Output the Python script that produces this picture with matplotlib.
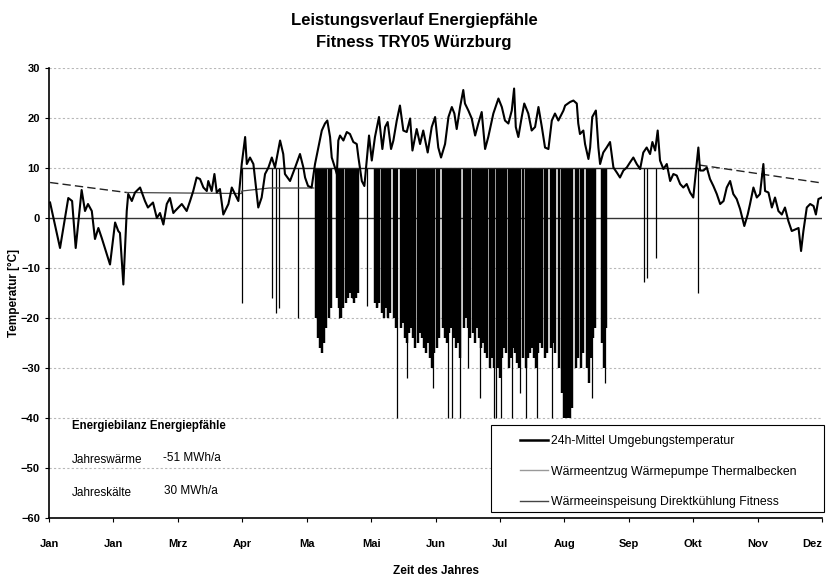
import matplotlib
matplotlib.use("Agg")
import matplotlib.pyplot as plt
from matplotlib.lines import Line2D
from matplotlib.patches import Rectangle
import numpy as np

plt.rcParams['font.family'] = ['Liberation Sans', 'DejaVu Sans']

# ---------------- data ----------------
month_labels = ["Jan", "Jan", "Mrz", "Apr", "Ma", "Mai", "Jun", "Jul",
                "Aug", "Sep", "Okt", "Nov", "Dez"]
year_days = 365

# 24h mean ambient temperature (day of year, °C)
temp_day = [0.5, 5.2, 9.1, 10.9, 12.6, 15.4, 17.0, 18.4, 20.2, 21.7, 23.3, 24.9,
            28.8, 31.2, 32.7, 33.5, 35.1, 36.7, 37.4, 39.1, 40.6, 43.0, 45.3,
            46.7, 49.1, 50.9, 52.4, 54.0, 55.6, 57.1, 58.7, 59.5, 62.7, 65.0,
            66.6, 68.1, 69.7, 71.3, 72.9, 74.5, 75.2, 76.8, 78.1, 79.2, 80.7,
            82.3, 84.7, 86.3, 87.8, 89.4, 91.0, 92.6, 93.4, 94.9, 96.5, 98.1,
            98.8, 100.4, 102.0, 103.6, 105.2, 106.7, 109.1, 110.6, 111.4, 113.8,
            116.2, 118.5, 120.1, 120.9, 122.3, 124.0, 125.6, 127.2, 128.8, 130.3,
            131.4, 132.7, 133.5, 135.0, 135.9, 136.6, 137.4, 139.0, 140.6, 142.1,
            143.7, 145.3, 146.1, 147.7, 148.9, 150.0, 151.1, 152.4, 153.9, 155.8,
            157.4, 158.7, 159.9, 161.5, 162.6, 164.2, 165.7, 167.3, 168.9, 170.5,
            171.6, 173.6, 175.2, 176.7, 178.8, 180.7, 182.3, 183.8, 185.1, 187.0,
            188.6, 190.2, 191.4, 192.5, 194.1, 195.6, 196.4, 198.0, 199.6, 201.2,
            202.7, 204.3, 205.9, 207.4, 209.8, 212.2, 213.8, 215.3, 216.9, 218.5,
            219.6, 220.4, 221.6, 223.2, 224.4, 226.3, 227.9, 229.5, 231.1, 232.7,
            234.2, 235.8, 237.4, 238.9, 240.5, 242.9, 243.7, 246.0, 247.6, 249.2,
            249.9, 250.7, 252.3, 253.1, 254.7, 255.5, 256.5, 258.2, 258.6, 259.4,
            260.2, 261.7, 263.3, 264.9, 266.5, 268.1, 269.6, 271.2, 272.8, 274.3,
            275.9, 277.5, 279.1, 280.6, 282.2, 283.8, 284.9, 286.2, 287.4, 288.5,
            290.1, 291.7, 293.3, 294.8, 296.4, 298.0, 299.5, 301.1, 302.7, 304.2,
            306.6, 307.4, 309.0, 310.6, 312.1, 313.7, 315.3, 316.9, 318.5, 320.0,
            321.6, 323.1, 324.7, 326.3, 328.3, 329.9, 331.0, 332.6, 334.2, 335.7,
            337.3, 338.1, 339.7, 341.3, 342.8, 344.4, 346.0, 347.5, 349.1, 350.7,
            352.3, 353.9, 355.1, 356.2, 357.8, 359.4, 361.0, 362.1, 363.3, 364.9]
temp_val = [3.1, -6.0, 4.0, 3.4, -6.0, 5.6, 1.4, 2.8, 1.4, -4.2, -2.0, -4.0,
            -9.3, -0.9, -2.6, -3.0, -13.3, 1.4, 4.8, 3.4, 5.1, 6.1, 3.4,
            2.1, 3.1, 0.0, 1.0, -1.3, 2.8, 4.0, 1.0, 1.4, 2.8, 1.4,
            3.4, 5.4, 8.1, 7.8, 6.1, 5.4, 7.4, 5.4, 8.8, 5.1, 5.8,
            0.7, 2.8, 6.1, 4.8, 3.4, 10.8, 16.2, 10.8, 12.1, 10.8, 4.8,
            2.1, 4.1, 8.8, 10.1, 12.1, 10.1, 15.5, 12.8, 8.8, 7.4,
            10.1, 12.8, 10.1, 8.1, 6.4, 6.1, 10.8, 14.1, 17.5, 18.9,
            19.5, 16.2, 12.1, 10.1, 8.8, 15.5, 16.5, 15.5, 17.2, 16.8,
            15.2, 14.8, 12.1, 7.4, 6.4, 11.5, 16.5, 11.5, 16.2, 20.2,
            13.8, 18.2, 19.2, 13.8, 15.5, 19.5, 22.5, 17.5, 17.2, 19.9,
            13.5, 17.8, 14.8, 17.5, 13.1, 18.2, 20.2, 14.1, 12.1, 14.8,
            20.2, 22.2, 20.9, 17.8, 22.2, 25.6, 22.9, 21.5, 19.9, 16.5,
            18.9, 21.2, 13.8, 16.2, 20.9, 23.9, 22.2, 19.5, 18.9, 21.5,
            25.9, 18.2, 16.2, 20.2, 22.9, 20.9, 17.5, 18.2, 22.2, 18.2,
            14.1, 13.8, 19.5, 20.9, 19.5, 21.5, 22.5, 23.2, 23.5, 22.9,
            18.9, 16.8, 17.5, 14.8, 11.8, 14.1, 20.2, 21.5, 19.2, 14.1,
            10.8, 13.1, 14.1, 15.2, 10.1, 9.1, 8.1, 9.5, 10.1, 11.1,
            12.1, 10.8, 9.8, 13.1, 14.1, 12.8, 15.2, 13.5, 17.5, 11.5,
            9.8, 10.8, 7.4, 8.8, 8.5, 6.8, 6.1, 6.8, 5.1, 4.1,
            14.1, 9.5, 9.5, 10.1, 7.8, 6.4, 4.8, 2.8, 3.4, 6.1,
            7.4, 4.8, 3.8, 1.8, -1.6, 0.7, 2.8, 6.1, 4.1, 4.8,
            10.8, 5.4, 5.1, 2.1, 4.1, 1.4, 0.7, 2.1, -0.6, -2.6,
            -2.3, -2.0, -6.6, -2.6, 2.1, 2.8, 2.4, 0.7, 3.8, 4.1]

# heat injection (direct cooling): upper level of the band
inj_top = 10.0
# days with continuous injection (dense band), lowest value of the day
band_day = [126, 127, 128, 129, 130, 131, 132, 133,
            136, 137, 138, 139, 140, 141, 142, 143, 144, 145, 146,
            154, 155, 156, 157, 158, 159, 160, 161, 163, 164,
            166, 167, 168, 169, 170, 171, 172, 173, 174, 175, 176, 177, 178,
            179, 180, 181, 182, 183, 184,
            186, 187, 188, 189, 190, 191, 192, 193, 194,
            196, 197, 198, 199, 200, 201, 202, 203, 204, 205, 206, 207, 208,
            209, 210,
            212, 213, 214, 215, 216, 217, 218, 219, 220, 221, 222,
            224, 225, 226, 227, 228, 229, 230, 231, 232, 233, 234, 235,
            237, 238, 239,
            241, 242, 243, 244, 245, 246, 247,
            249, 250, 251, 252,
            254, 255, 256, 257, 258,
            261, 262, 263]
band_low = [-20, -24, -26, -27, -25, -22, -20, -18,
            -16, -18, -20, -18, -17, -16, -15, -16, -17, -16, -15,
            -17, -18, -17, -19, -20, -18, -20, -19, -20, -22,
            -22, -21, -24, -25, -23, -22, -24, -26, -25, -23, -24, -26, -27,
            -25, -28, -30, -27, -26, -24,
            -22, -24, -25, -23, -22, -24, -26, -25, -28,
            -22, -20, -22, -24, -23, -25, -22, -24, -26, -25, -27, -28, -30,
            -28, -30,
            -30, -32, -28, -26, -27, -30, -28, -26, -27, -29, -30,
            -28, -30, -28, -27, -26, -28, -30, -27, -25, -26, -28, -27,
            -26, -25, -27,
            -30, -35, -40, -40, -40, -40, -38,
            -30, -28, -30, -27,
            -30, -33, -28, -24, -22,
            -25, -30, -22]
# single injection peaks (thin spikes)
spike_day = [91.0, 105.3, 107.0, 108.5, 117.6, 137.0, 143.0, 150.2, 154.9,
             159.6, 164.3, 169.0, 181.3, 188.6, 190.5, 194.1, 197.9, 203.5,
             210.0, 211.0, 213.5, 218.6, 222.6, 225.4, 230.4, 237.5, 256.4,
             262.5, 281.0, 282.4, 286.6, 306.6]
spike_low = [-17, -16, -19, -18, -20, -20, -16, -17.7, -17.7,
             -19.7, -40, -32, -34, -40, -40, -40, -30, -36,
             -40, -40, -40, -40, -35, -40, -40, -40, -36,
             -33, -12.7, -12.0, -8.0, -15.0]

# ground / heat extraction reference levels
ext_day = [0.5, 36.7, 91.0, 91.0, 104.0, 125.0]
ext_val = [7.1, 5.1, 4.9, 5.4, 6.0, 6.0]
lvl_day = [91.0, 307.0]
lvl_val = [10.0, 10.0]
lvl2_day = [307.0, 365.0]
lvl2_val = [10.6, 7.0]

# ---------------- figure ----------------
fig = plt.figure(figsize=(8.28, 5.77), dpi=100)
ax = fig.add_axes([0.0592, 0.1023, 0.9336, 0.7798])

for yv in [30, 20, 10, -10, -20, -30, -40, -50]:
    ax.axhline(yv, color='#b8b8b8', lw=0.8, ls=(0, (2, 2)), zorder=0)
ax.axhline(0, color='#333333', lw=1.0, zorder=1)

ax.vlines(band_day, band_low, inj_top, color='black', lw=1.75, zorder=2)
ax.vlines(spike_day, spike_low, inj_top, color='black', lw=0.9, zorder=2)
ax.plot(ext_day[:2], ext_val[:2], color='#222222', lw=1.0, ls=(0, (6, 3)), zorder=2)
ax.plot(ext_day[1:], ext_val[1:], color='#444444', lw=0.9, zorder=2)
ax.plot(lvl_day, lvl_val, color='#222222', lw=1.0, zorder=2)
ax.plot(lvl2_day, lvl2_val, color='#222222', lw=1.0, ls=(0, (6, 3)), zorder=2)
ax.plot(temp_day, temp_val, color='black', lw=1.5, zorder=3)

ax.set_xlim(0, year_days)
ax.set_ylim(-60, 30)
ax.set_xticks(np.linspace(0, year_days, len(month_labels)))
ax.set_xticklabels(month_labels)
ax.set_yticks(range(-60, 31, 10))
ax.tick_params(axis='both', labelsize=8, length=3, width=0.8, color='black')
ax.tick_params(axis='x', pad=12)
xl = ax.get_xticklabels()
xl[-1].set_horizontalalignment('right')
for lab in xl + ax.get_yticklabels():
    lab.set_fontweight('bold')
for s in ['top', 'right']:
    ax.spines[s].set_visible(False)
ax.spines['left'].set_linewidth(1.2)
ax.spines['bottom'].set_linewidth(1.2)

ax.set_ylabel('Temperatur [°C]', fontsize=8.5, fontweight='bold')
ax.yaxis.set_label_coords(-0.037, 0.5)
ax.set_xlabel('Zeit des Jahres', fontsize=8.5, fontweight='bold', labelpad=12)
fig.suptitle('Leistungsverlauf Energiepfähle\nFitness TRY05 Würzburg',
             fontsize=12, fontweight='bold', y=0.978, linespacing=1.65)

# annotation block
ax.text(10.9, -41.7, 'Energiebilanz Energiepfähle', fontsize=8.3,
        fontweight='bold', va='center')
ax.text(10.9, -48.5, 'Jahreswärme', fontsize=8.5, va='center')
ax.text(53.8, -48.1, '-51 MWh/a', fontsize=8.5, va='center')
ax.text(10.9, -55.1, 'Jahreskälte', fontsize=8.5, va='center')
ax.text(54.5, -54.7, '30 MWh/a', fontsize=8.5, va='center')

# legend (frame drawn separately)
ax.add_patch(Rectangle((0.572, 0.013), 0.431, 0.193, transform=ax.transAxes,
                       fill=True, facecolor='white', edgecolor='black', lw=0.8,
                       zorder=4, clip_on=False))
handles = [Line2D([], [], color='black', lw=1.8),
           Line2D([], [], color='#999999', lw=1.0),
           Line2D([], [], color='#444444', lw=1.0)]
labels = ['24h-Mittel Umgebungstemperatur',
          'Wärmeentzug Wärmepumpe Thermalbecken',
          'Wärmeeinspeisung Direktkühlung Fitness']
leg = ax.legend(handles, labels, loc='upper left',
                bbox_to_anchor=(0.604, 0.192), frameon=False,
                fontsize=8.8, borderaxespad=0, borderpad=0.3,
                labelspacing=1.5, handlelength=2.3, handletextpad=0.3)
leg.set_zorder(5)

fig.savefig('out.png', dpi=100)
